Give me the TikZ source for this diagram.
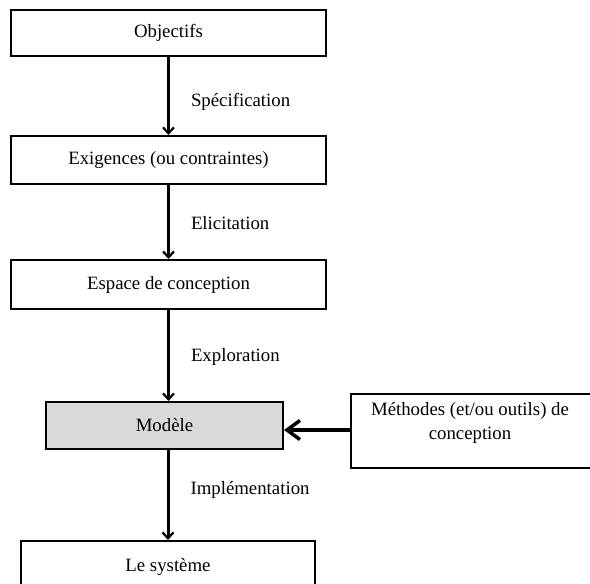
\documentclass[tikz,border=0pt]{standalone}
\usepackage{fontspec}
\setmainfont{Liberation Serif}
\usetikzlibrary{arrows.meta}
\definecolor{modgray}{RGB}{217,217,217}
\tikzset{
  stepbox/.style={draw=black, line width=2pt, fill=white, rectangle, inner sep=0pt,
    font=\fontsize{18.8}{24}\selectfont},
  flow/.style={line width=3pt, -{Straight Barb[length=6pt,width=11pt,line width=2.2pt]}},
  feed/.style={line width=4pt, -{Straight Barb[length=13pt,width=19pt,line width=3.5pt]}},
  steplabel/.style={anchor=west, inner sep=0pt, xshift=21pt, yshift=-1.5pt,
    font=\fontsize{18.8}{24}\selectfont}
}
\begin{document}
\begin{tikzpicture}[x=1pt, y=-1pt]
  \useasboundingbox (0,0) rectangle (590,584);

  % main chain of boxes
  \node[stepbox, minimum width=315pt, minimum height=46pt] (obj) at (168.5,33) {Objectifs};
  \node[stepbox, minimum width=315pt, minimum height=48pt] (exi) at (168.5,160) {Exigences (ou contraintes)};
  \node[stepbox, minimum width=315pt, minimum height=49pt] (esp) at (168.5,284.5) {Espace de conception};
  \node[stepbox, fill=modgray, minimum width=237pt, minimum height=47pt] (mod) at (164.5,425.5) {Modèle};
  \node[stepbox, minimum width=294pt, minimum height=52pt] (sys) at (168,567) {Le système};

  % side box with the design methods, running past the right edge, text set near its top
  \node[stepbox, minimum width=245pt, minimum height=74pt,
        label={[name=metlab, align=center, anchor=north, inner sep=0pt, yshift=-9pt, xshift=-3.5pt,
                font=\fontsize{18.8}{24}\selectfont]north:Méthodes (et/ou outils) de\\conception}]
        (met) at (473.5,431) {};

  % connectors
  \draw[flow] (obj) -- node[steplabel, pos=0.55] {Spécification} (exi);
  \draw[flow] (exi) -- node[steplabel] {Elicitation} (esp);
  \draw[flow] (esp.south) -- node[steplabel] {Exploration} (esp.south |- mod.north);
  \draw[flow] (mod.south -| sys.north) -- node[steplabel, pos=0.43] {Implémentation} (sys.north);
  \draw[feed] ([yshift=1pt]met.west) -- ([yshift=1pt]met.west -| mod.east);
\end{tikzpicture}
\end{document}
